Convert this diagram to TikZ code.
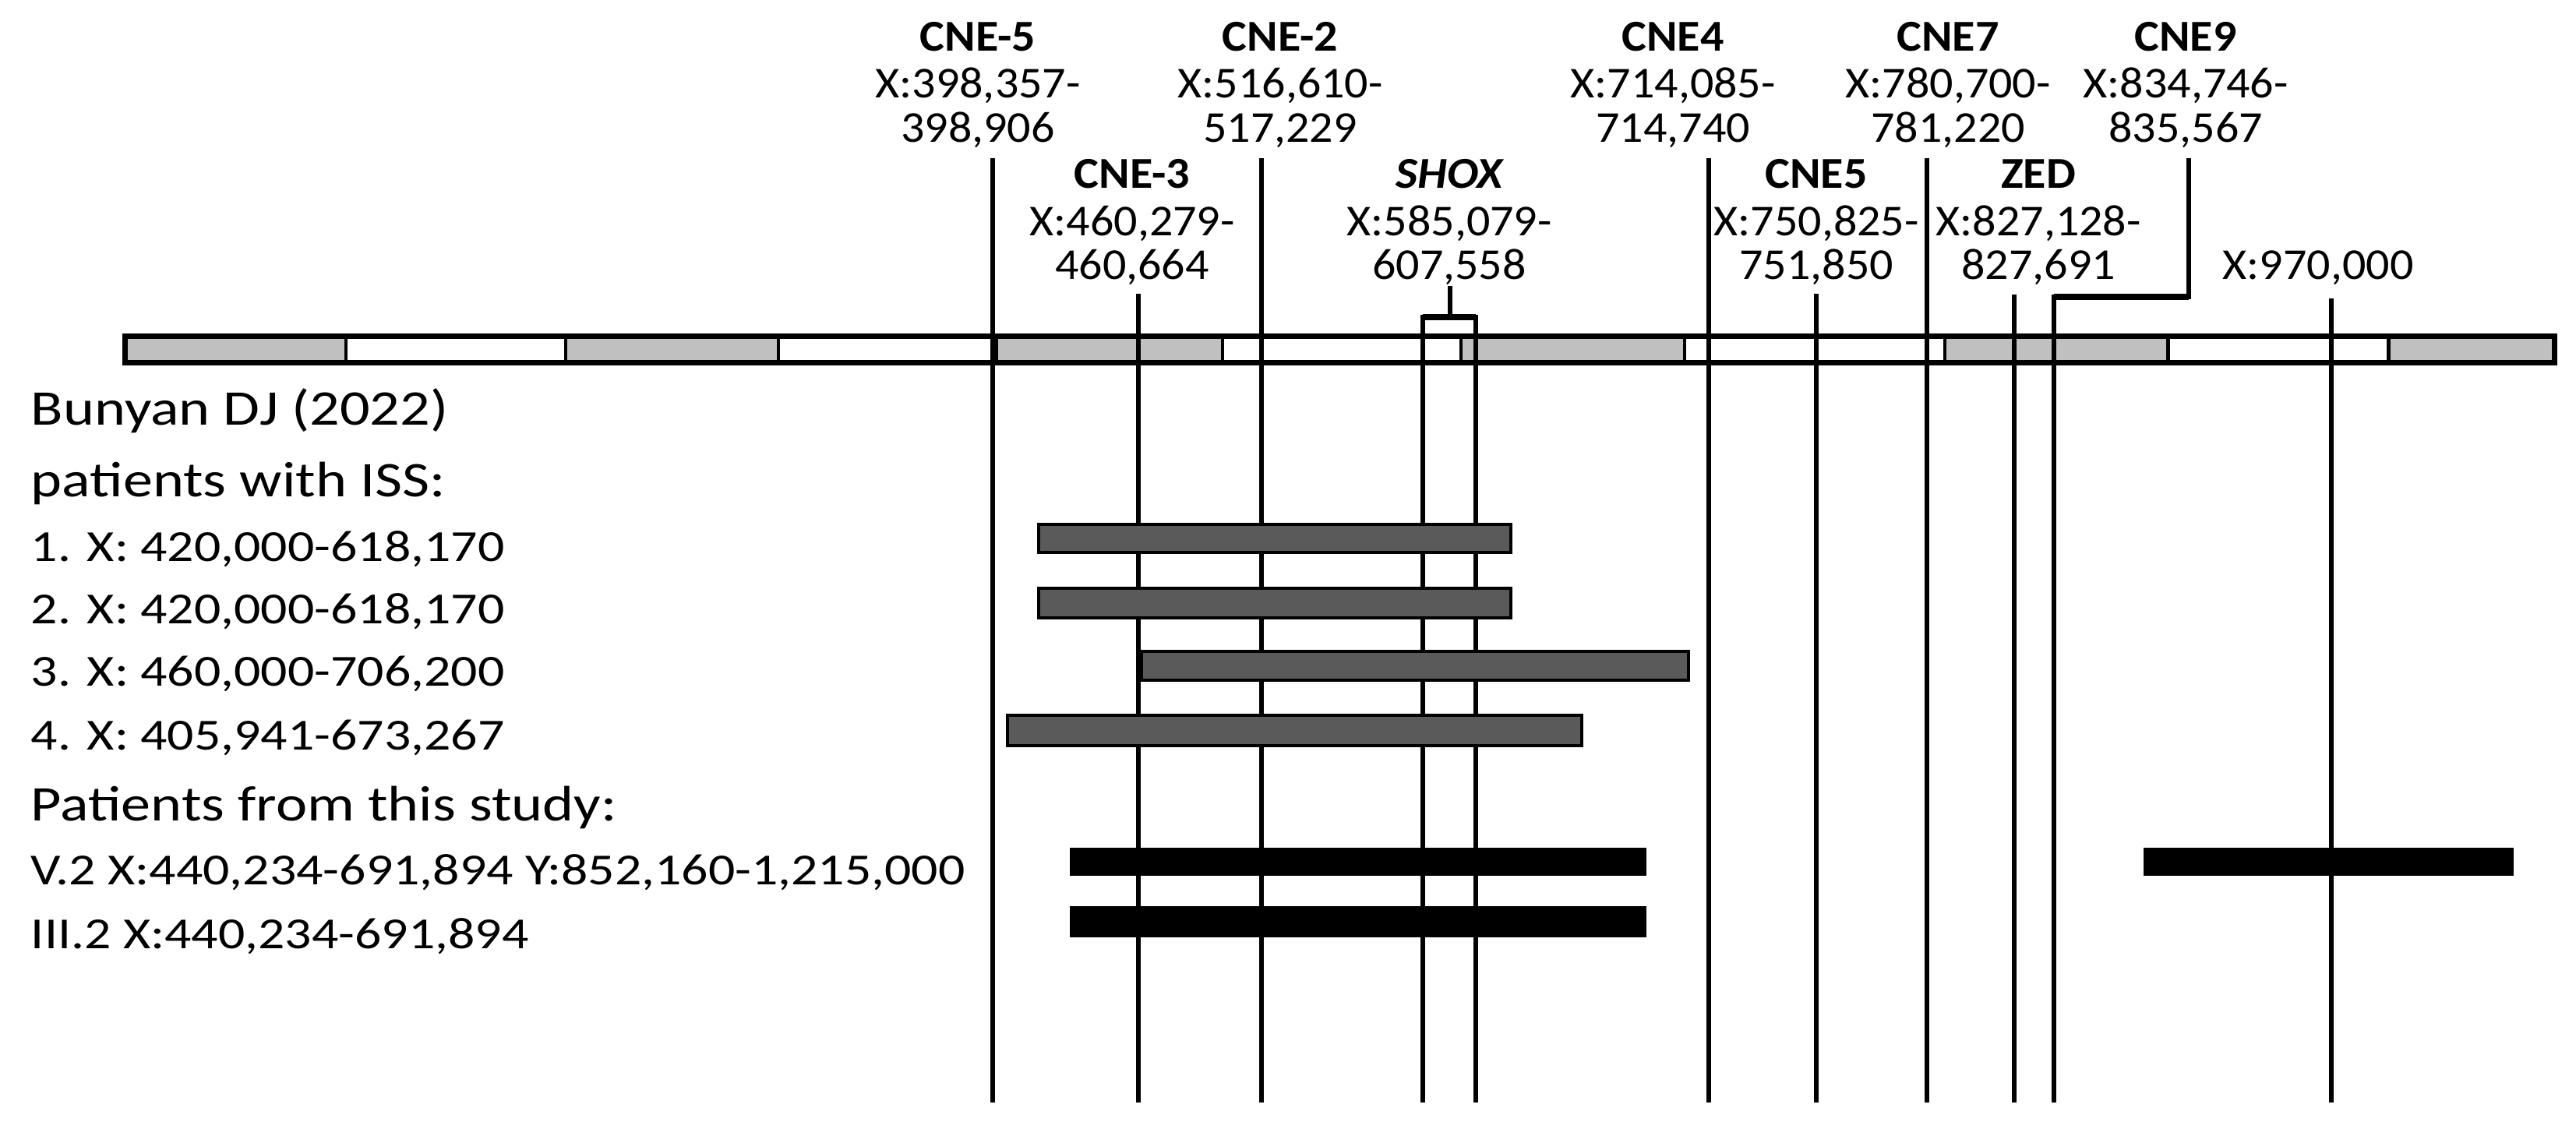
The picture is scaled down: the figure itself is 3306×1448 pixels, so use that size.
\documentclass[tikz,border=0pt]{standalone}
\usepackage{fontspec}
\setmainfont{Carlito}
\definecolor{segGray}{HTML}{C0C0C0}
\definecolor{issGray}{HTML}{5A5A5A}
\newcommand{\hsL}[1]{\scalebox{1.19}[1]{#1}}
\newcommand{\hsT}[1]{\scalebox{1.06}[1]{#1}}
\tikzset{
  every node/.style={inner sep=0pt, outer sep=0pt},
  lbl/.style={anchor=base, font=\fontsize{16.1}{18}\selectfont},
  lblb/.style={anchor=base, font=\fontsize{16.1}{18}\selectfont\bfseries},
  ltitle/.style={anchor=base west, font=\fontsize{18.2}{21}\selectfont},
  ldata/.style={anchor=base west, font=\fontsize{16.2}{19}\selectfont},
  locus/.style={line width=1.7pt},
  bracket/.style={line width=2.2pt},
  seg/.style={fill=segGray, draw=none},
  sepline/.style={line width=1.4pt},
  issbar/.style={fill=issGray, draw=black, line width=1pt},
  ownbar/.style={fill=black, draw=none},
}
\begin{document}
\begin{tikzpicture}[x=0.01cm, y=-0.01cm]
\useasboundingbox (0,0) rectangle (3306,1448);

% ---- chromosome bar ----
\fill[white] (160,431) rectangle (3279,466);
\foreach \a/\b in {160/444, 726/999, 1274/1569, 1875/2162, 2496/2782, 3065/3279}
  \fill[segGray] (\a,431) rectangle (\b,466);
\foreach \s in {444, 726, 999, 1279, 1569, 1875, 2162, 2496, 2782, 3065}
  \draw[sepline] (\s,431) -- (\s,466);
\draw[line width=2pt] (160.5,431.5) rectangle (3278.5,465.5);

% ---- locus labels ----
\node[lblb] (cne5m)  at (1255,65)  {\hsT{CNE-5}};
\node[lbl]  (cne5mA) at (1255,125) {\hsT{X:398,357-}};
\node[lbl]  (cne5mB) at (1255,182) {\hsT{398,906}};

\node[lblb] (cne2m)  at (1643,65)  {\hsT{CNE-2}};
\node[lbl]  (cne2mA) at (1643,125) {\hsT{X:516,610-}};
\node[lbl]  (cne2mB) at (1643,182) {\hsT{517,229}};

\node[lblb] (cne3m)  at (1453,241) {\hsT{CNE-3}};
\node[lbl]  (cne3mA) at (1453,302) {\hsT{X:460,279-}};
\node[lbl]  (cne3mB) at (1453,358) {\hsT{460,664}};

\node[lblb] (shox)   at (1860,241) {\hsT{\itshape SHOX}};
\node[lbl]  (shoxA)  at (1860,302) {\hsT{X:585,079-}};
\node[lbl]  (shoxB)  at (1860,358) {\hsT{607,558}};

\node[lblb] (cne4)   at (2147,65)  {\hsT{CNE4}};
\node[lbl]  (cne4A)  at (2147,125) {\hsT{X:714,085-}};
\node[lbl]  (cne4B)  at (2147,182) {\hsT{714,740}};

\node[lblb] (cne5p)  at (2331,241) {\hsT{CNE5}};
\node[lbl]  (cne5pA) at (2331,302) {\hsT{X:750,825-}};
\node[lbl]  (cne5pB) at (2331,358) {\hsT{751,850}};

\node[lblb] (cne7)   at (2500,65)  {\hsT{CNE7}};
\node[lbl]  (cne7A)  at (2500,125) {\hsT{X:780,700-}};
\node[lbl]  (cne7B)  at (2500,182) {\hsT{781,220}};

\node[lblb] (zed)    at (2616,241) {\hsT{ZED}};
\node[lbl]  (zedA)   at (2616,302) {\hsT{X:827,128-}};
\node[lbl]  (zedB)   at (2616,358) {\hsT{827,691}};

\node[lblb] (cne9)   at (2805,65)  {\hsT{CNE9}};
\node[lbl]  (cne9A)  at (2805,125) {\hsT{X:834,746-}};
\node[lbl]  (cne9B)  at (2805,182) {\hsT{835,567}};

\node[lbl]  (x970)   at (2975,358) {\hsT{X:970,000}};

% ---- locus lines ----
\coordinate (c5t) at (1274,203);  \coordinate (c5b) at (1274,1415);
\coordinate (c3t) at (1461,377);  \coordinate (c3b) at (1461,1415);
\coordinate (c2t) at (1619,203);  \coordinate (c2b) at (1619,1415);
\coordinate (c4t) at (2193,203);  \coordinate (c4b) at (2193,1415);
\coordinate (p5t) at (2331,377);  \coordinate (p5b) at (2331,1415);
\coordinate (c7t) at (2473,203);  \coordinate (c7b) at (2473,1415);
\coordinate (zt)  at (2585,378);  \coordinate (zb)  at (2585,1415);
\coordinate (xt)  at (2992,383);  \coordinate (xb)  at (2992,1415);
\coordinate (s0)  at (1861,367);  \coordinate (s1)  at (1861,407);
\coordinate (sL)  at (1826,407);  \coordinate (sR)  at (1894,407);
\coordinate (sLb) at (1826,1415); \coordinate (sRb) at (1894,1415);
\coordinate (n9t) at (2809,203);  \coordinate (n9k) at (2809,381);
\coordinate (n9j) at (2636,381);  \coordinate (n9b) at (2636,1415);

\foreach \t/\b in {c5t/c5b, c3t/c3b, c2t/c2b, c4t/c4b, p5t/p5b, c7t/c7b, zt/zb, xt/xb}
  \draw[locus] (\t) -- (\b);
\draw[locus] (s0) -- (s1);
\draw[locus] (sLb) -- (sL) -- (sR) -- (sRb);
\draw[bracket] (sL) -- (sR);
\draw[locus] (n9t) -- (n9k) -- (n9j) -- (n9b);
\draw[bracket] (n9k) -- (n9j);

% ---- left text ----
\node[ltitle] (t1) at (40,545)  {\hsL{Bunyan DJ (2022)}};
\node[ltitle] (t2) at (40,637)  {\hsL{patients with ISS:}};
\node[ldata]  (p1) at (40,720)  {\hsL{1. X: 420,000-618,170}};
\node[ldata]  (p2) at (40,800)  {\hsL{2. X: 420,000-618,170}};
\node[ldata]  (p3) at (40,880)  {\hsL{3. X: 460,000-706,200}};
\node[ldata]  (p4) at (40,962)  {\hsL{4. X: 405,941-673,267}};
\node[ltitle] (t3) at (40,1053) {\hsL{Patients from this study:}};
\node[ldata]  (q1) at (40,1135) {\hsL{V.2 X:440,234-691,894 Y:852,160-1,215,000}};
\node[ldata]  (q2) at (40,1217) {\hsL{III.2 X:440,234-691,894}};

% ---- deletion bars ----
\draw[issbar] (1333,673) rectangle (1939,709);
\draw[issbar] (1333,755) rectangle (1939,793);
\draw[issbar] (1465,836) rectangle (2167,873);
\draw[issbar] (1293,918) rectangle (2030,957);
\fill[ownbar] (1373,1088) rectangle (2113,1124);
\fill[ownbar] (2751,1088) rectangle (3226,1124);
\fill[ownbar] (1373,1163) rectangle (2113,1203);
\end{tikzpicture}
\end{document}
